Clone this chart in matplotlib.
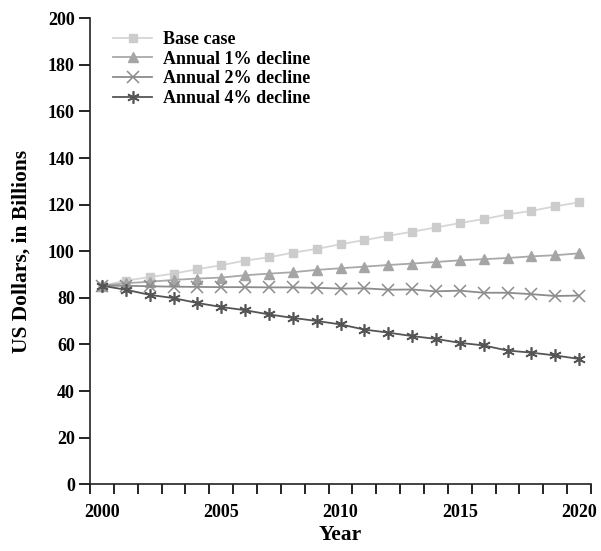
import matplotlib.pyplot as plt
from matplotlib.ticker import FixedLocator

# データ (値は図から読み取り)
years = list(range(2000, 2021))
base_case = [85.2, 87.4, 88.9, 90.4, 92.3, 94.0, 96.0, 97.4, 99.4, 101.0, 103.0,
             104.8, 106.6, 108.4, 110.2, 112.1, 113.8, 115.8, 117.3, 119.3, 121.0]
decline_1 = [85.2, 86.3, 86.9, 87.7, 88.3, 88.7, 89.7, 90.4, 91.0, 92.0, 92.7,
             93.4, 94.1, 94.7, 95.4, 96.1, 96.6, 97.1, 97.8, 98.3, 99.1]
decline_2 = [85.2, 85.2, 85.0, 84.8, 84.7, 84.6, 84.6, 84.5, 84.5, 84.3, 84.0,
             84.1, 83.5, 83.6, 82.8, 83.1, 82.2, 82.2, 81.6, 80.8, 81.0]
decline_4 = [85.2, 83.5, 81.3, 79.9, 77.8, 76.1, 74.7, 72.9, 71.4, 70.1, 68.6,
             66.4, 65.1, 63.6, 62.4, 60.7, 59.6, 57.4, 56.5, 55.3, 53.8]
series_labels = ["Base case", "Annual 1% decline", "Annual 2% decline", "Annual 4% decline"]
tick_years = [2000, 2005, 2010, 2015, 2020]

plt.rcParams['font.family'] = ['Liberation Serif', 'DejaVu Serif']
plt.rcParams['font.weight'] = 'bold'

fig = plt.figure(figsize=(6.01, 5.51), dpi=100)
ax = fig.add_axes([0.1498, 0.121, 0.8336, 0.846])

x = list(range(len(years)))
ax.plot(x, base_case, color='#d6d6d6', marker='s', markersize=6,
        markerfacecolor='#cccccc', markeredgecolor='#cccccc', lw=1.3, label=series_labels[0])
ax.plot(x, decline_1, color='#a9a9a9', marker='^', markersize=7,
        markerfacecolor='#a5a5a5', markeredgecolor='#a5a5a5', lw=1.3, label=series_labels[1])
ax.plot(x, decline_2, color='#8c8c8c', marker='x', markersize=8, mew=1.1,
        lw=1.3, label=series_labels[2])
ax.plot(x, decline_4, color='#555555', marker=(6, 2, 0), markersize=9, mew=1.2,
        lw=1.3, label=series_labels[3])

# 軸の設定
ax.set_xlim(-0.5, len(years) - 0.5)
ax.set_ylim(0, 200)
ax.set_yticks(range(0, 201, 20))
ax.xaxis.set_major_locator(FixedLocator([years.index(y) for y in tick_years]))
ax.set_xticklabels([str(y) for y in tick_years])
ax.xaxis.set_minor_locator(FixedLocator([i - 0.5 for i in range(len(years) + 1)]))
ax.tick_params(axis='x', which='major', length=0, pad=14, labelsize=13)
ax.tick_params(axis='x', which='minor', length=7, width=1.2, direction='out')
ax.tick_params(axis='y', length=8, width=1.2, pad=3, labelsize=13)
for lab in ax.get_xticklabels() + ax.get_yticklabels():
    lab.set_fontweight('bold')

for side in ['top', 'right']:
    ax.spines[side].set_visible(False)
for side in ['left', 'bottom']:
    ax.spines[side].set_linewidth(1.2)
    ax.spines[side].set_color('#222222')

ax.set_xlabel("Year", fontsize=15.5, fontweight='bold', labelpad=3)
ax.set_ylabel("US Dollars, in Billions", fontsize=15.5, fontweight='bold', labelpad=12)

leg = ax.legend(loc='upper left', bbox_to_anchor=(0.02, 1.0), frameon=False,
                prop={'size': 13, 'weight': 'bold'}, handlelength=2.2,
                handletextpad=0.6, labelspacing=0.15, borderaxespad=0.3)

fig.savefig("out.png", dpi=100)
